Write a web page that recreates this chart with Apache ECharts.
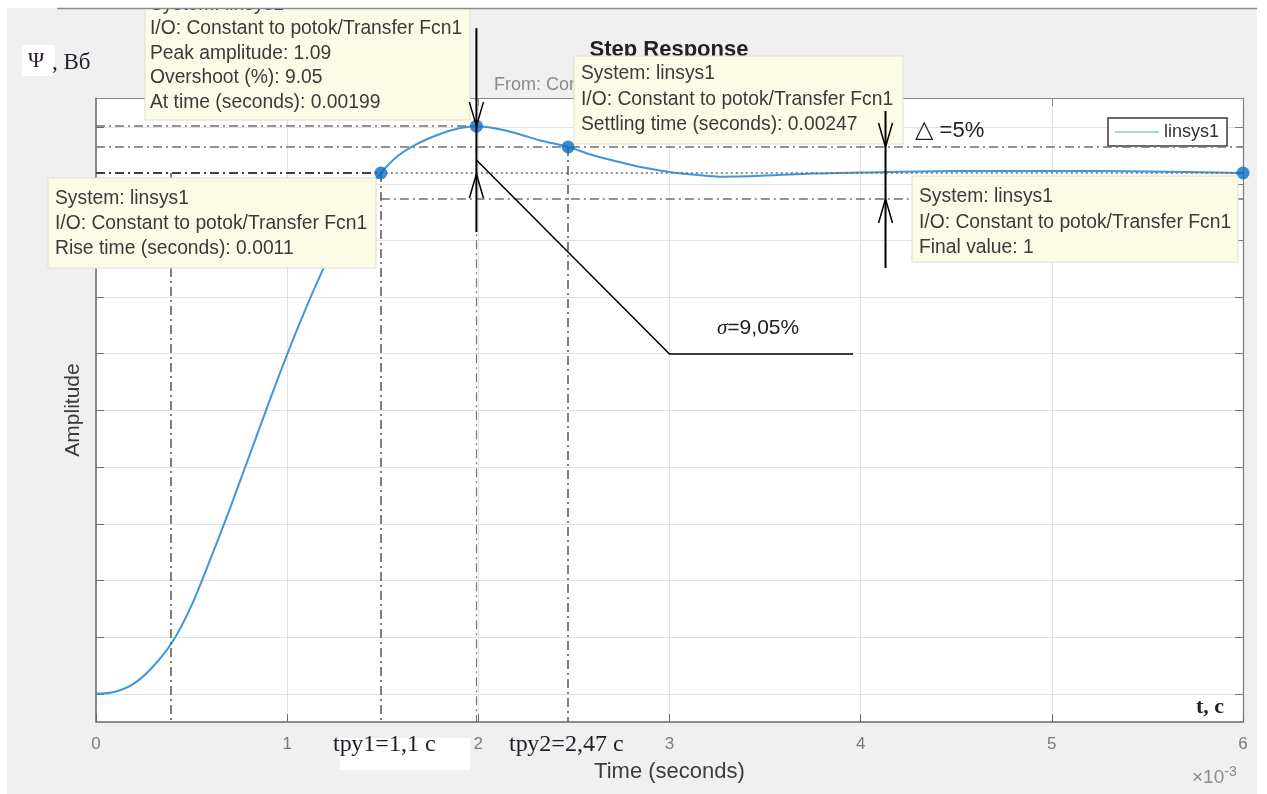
<!DOCTYPE html>
<html>
<head>
<meta charset="utf-8">
<script src="https://cdn.jsdelivr.net/npm/echarts@6/dist/echarts.min.js"></script>
<style>
  html, body { margin: 0; padding: 0; background: #fff; }
  #chart { width: 1267px; height: 794px; }
</style>
</head>
<body>
<div id="chart"></div>
<script>
// Step response of linsys1 (Constant -> potok/Transfer Fcn1); time axis in milliseconds
const timeMs = [0, 0.1, 0.2, 0.3, 0.4, 0.5, 0.6, 0.7, 0.8, 0.9, 1.0, 1.1, 1.2, 1.3, 1.4,
  1.49, 1.58, 1.68, 1.8, 1.9, 1.99, 2.1, 2.2, 2.32, 2.47, 2.6, 2.75, 2.87, 3.0, 3.15, 3.26,
  3.5, 3.75, 4.0, 4.5, 5.0, 5.5, 6.0];
const amplitude = [0, 0.004, 0.02, 0.053, 0.10, 0.17, 0.26, 0.355, 0.455, 0.555, 0.652, 0.742, 0.825, 0.9, 0.958,
  1.0, 1.033, 1.056, 1.075, 1.086, 1.09, 1.085, 1.076, 1.063, 1.05, 1.034, 1.02, 1.01, 1.002, 0.996, 0.993,
  0.995, 0.999, 1.001, 1.004, 1.004, 1.003, 1.0];

// axis ticks
const timeTicks = [0, 1, 2, 3, 4, 5, 6];
const ampGridTicks = [0, 0.109, 0.218, 0.326, 0.435, 0.544, 0.653, 0.762, 0.870, 0.979, 1.088];
const ampMin = -0.054, ampMax = 1.144;

// step-response characteristics
const peakTime = 1.99, peakAmp = 1.09, overshootPct = 9.05;
const t10 = 0.39, riseTime = 1.1, t90 = t10 + riseTime, riseLevel = 1.0;
const settleTime = 2.47, finalValue = 1, bandPct = 5;
const bandHi = finalValue * (1 + bandPct / 100), bandLo = finalValue * (1 - bandPct / 100);

const SANS = '"Liberation Sans", Arial, sans-serif';
const SERIF = '"Liberation Serif", "Times New Roman", serif';
const tEnd = timeTicks[timeTicks.length - 1];

const chart = echarts.init(document.getElementById('chart'), null, { renderer: 'canvas' });

const dashDot = (color, width) => ({ color, width, type: [9, 4, 2, 4] });
const refLines = [
  [{ coord: [0, peakAmp], lineStyle: dashDot('#707070', 1.5) }, { coord: [peakTime, peakAmp] }],
  [{ coord: [0, bandHi], lineStyle: dashDot('#707070', 1.5) }, { coord: [tEnd, bandHi] }],
  [{ coord: [t90, bandLo], lineStyle: dashDot('#707070', 1.5) }, { coord: [tEnd, bandLo] }],
  [{ coord: [t90, finalValue], lineStyle: { color: '#6a6a6a', width: 1.5, type: [2, 3] } }, { coord: [tEnd, finalValue] }],
  [{ coord: [0, riseLevel], lineStyle: dashDot('#404040', 2) }, { coord: [t90, riseLevel] }],
  [{ coord: [t10, riseLevel], lineStyle: dashDot('#555', 1.5) }, { coord: [t10, ampMin] }],
  [{ coord: [t90, riseLevel], lineStyle: dashDot('#555', 1.5) }, { coord: [t90, ampMin] }],
  [{ coord: [peakTime, peakAmp], lineStyle: dashDot('#777', 1.2) }, { coord: [peakTime, ampMin] }],
  [{ coord: [settleTime, bandHi], lineStyle: dashDot('#555', 1.5) }, { coord: [settleTime, ampMin] }]
];

const axisGray = '#6a6a6a';
const option = {
  backgroundColor: '#f0f0f0',
  animation: false,
  grid: { left: 96, top: 98, width: 1147, height: 624, show: true, backgroundColor: '#fff', borderWidth: 0 },
  legend: {
    left: 1108, top: 118, padding: [5, 8, 5, 7], itemWidth: 44, itemHeight: 2, icon: 'rect',
    borderColor: '#3a3a3a', borderWidth: 1.5, backgroundColor: '#fff', selectedMode: false,
    textStyle: { fontFamily: SANS, fontSize: 18, color: '#333' },
    data: [{ name: 'linsys1', itemStyle: { color: '#a9d1f0' } }]
  },
  xAxis: [
    {
      type: 'value', min: timeTicks[0], max: tEnd, interval: 1,
      name: 'Time (seconds)', nameLocation: 'middle', nameGap: 39,
      nameTextStyle: { fontFamily: SANS, fontSize: 22, color: '#3c3c3c' },
      axisLine: { onZero: false, lineStyle: { color: axisGray, width: 1.5 } },
      axisTick: { inside: true, length: 8, lineStyle: { color: axisGray } },
      axisLabel: { margin: 14, fontFamily: SANS, fontSize: 17, color: '#7a7a7a' },
      splitLine: { show: true, lineStyle: { color: '#e2e2e2', width: 1 } }
    },
    {
      type: 'value', position: 'top', min: timeTicks[0], max: tEnd, interval: 1,
      axisLine: { onZero: false, lineStyle: { color: '#8a8a8a', width: 1.2 } },
      axisTick: { inside: true, length: 8, lineStyle: { color: '#8a8a8a' } },
      axisLabel: { show: false }, splitLine: { show: false }
    }
  ],
  yAxis: [
    {
      type: 'value', min: ampMin, max: ampMax,
      name: 'Amplitude', nameLocation: 'middle', nameGap: 12,
      nameTextStyle: { fontFamily: SANS, fontSize: 21, color: '#3c3c3c' },
      axisLine: { show: true, onZero: false, lineStyle: { color: axisGray, width: 1.5 } },
      axisTick: { show: true, inside: true, length: 8, customValues: ampGridTicks, lineStyle: { color: axisGray } },
      axisLabel: { show: false, customValues: ampGridTicks },
      splitLine: { show: true, lineStyle: { color: '#e2e2e2', width: 1 } }
    },
    {
      type: 'value', position: 'right', min: ampMin, max: ampMax,
      axisLine: { show: true, onZero: false, lineStyle: { color: '#7a7a7a', width: 1.2 } },
      axisTick: { show: true, inside: true, length: 8, customValues: ampGridTicks, lineStyle: { color: '#7a7a7a' } },
      axisLabel: { show: false, customValues: ampGridTicks }, splitLine: { show: false }
    }
  ],
  series: [
    {
      name: 'linsys1', type: 'line', xAxisIndex: 0, yAxisIndex: 0, z: 3,
      data: timeMs.map((t, i) => [t, amplitude[i]]),
      smooth: 0.35, showSymbol: false, symbol: 'none',
      lineStyle: { color: '#3d97dc', width: 2 }, itemStyle: { color: '#3d97dc' },
      markLine: { symbol: 'none', silent: true, label: { show: false }, animation: false, data: refLines }
    },
    {
      name: 'characteristics', type: 'scatter', xAxisIndex: 0, yAxisIndex: 0, z: 5,
      symbolSize: 13, itemStyle: { color: '#0b6fc0' },
      data: [[peakTime, peakAmp], [t90, riseLevel], [settleTime, bandHi], [tEnd, finalValue]]
    }
  ]
};
chart.setOption(option);

// overlay: datatips, dimension arrows and hand-written notes
const P = (t, v) => chart.convertToPixel({ xAxisIndex: 0, yAxisIndex: 0 }, [t, v]);
const [peakX, peakY] = P(peakTime, peakAmp);
const finalY = P(0, finalValue)[1];
const hiY = P(0, bandHi)[1], loY = P(0, bandLo)[1];
const dimX = P(4.13, 0)[0];
const elbow = [P(3, 0)[0], 354];

const g = [];
const box = (x, y, w, h, lines, tx, ly, step) => {
  g.push({ type: 'rect', z: 50, shape: { x, y, width: w, height: h },
    style: { fill: '#fcfce6', stroke: '#deded0', lineWidth: 1 } });
  lines.forEach((s, i) => g.push({ type: 'text', z: 51,
    style: { text: s, x: tx, y: ly + i * step, font: '19.3px ' + SANS, fill: '#3a3a3a', verticalAlign: 'middle' } }));
};
const line = (pts, w, color) => g.push({ type: 'polyline', z: 60, shape: { points: pts },
  style: { stroke: color || '#000', lineWidth: w, fill: null } });
const arrowDown = (x, yTip) => line([[x - 7, yTip - 24], [x, yTip], [x + 7, yTip - 24]], 1.5);
const arrowUp = (x, yTip) => line([[x - 7, yTip + 24], [x, yTip], [x + 7, yTip + 24]], 1.5);
const text = (s, x, y, font, fill, extra, z) => g.push({ type: 'text', z: z || 70,
  style: Object.assign({ text: s, x, y, font, fill: fill || '#222', verticalAlign: 'middle' }, extra || {}) });

// title and input/output label (partly hidden under the datatips)
text('Step Response', 669, 50, 'bold 22px ' + SANS, '#222', { align: 'center' }, 10);
text('From: Constant to potok', 494, 85, '18px ' + SANS, '#8a8a8a', null, 10);

box(145, -30, 325, 150, ['System: linsys1', 'I/O: Constant to potok/Transfer Fcn1',
  'Peak amplitude: ' + peakAmp, 'Overshoot (%): ' + overshootPct,
  'At time (seconds): ' + (peakTime / 1000).toPrecision(3)], 150, 4.5, 24.5);
box(48, 178, 328, 90, ['System: linsys1', 'I/O: Constant to potok/Transfer Fcn1',
  'Rise time (seconds): ' + (riseTime / 1000).toPrecision(2)], 55, 199, 25);
box(574, 56, 329, 88, ['System: linsys1', 'I/O: Constant to potok/Transfer Fcn1',
  'Settling time (seconds): ' + (settleTime / 1000).toPrecision(3)], 581, 74, 25.5);
box(912, 176, 326, 86, ['System: linsys1', 'I/O: Constant to potok/Transfer Fcn1',
  'Final value: ' + finalValue], 919, 197, 25.5);

// overshoot dimension
line([[peakX, peakY - 98], [peakX, finalY + 59]], 2);
arrowDown(peakX, peakY);
arrowUp(peakX, finalY + 1);
line([[peakX, finalY - 13], elbow, [853, elbow[1]]], 1.5);
g.push({ type: 'text', z: 70, style: { x: 717, y: 328, verticalAlign: 'middle',
  text: '{s|σ}{n|=' + overshootPct.toFixed(2).replace('.', ',') + '%}',
  rich: { s: { font: 'italic 21px ' + SERIF, fill: '#222' }, n: { font: '21px ' + SANS, fill: '#222' } } } });

// settling band dimension
line([[dimX, hiY - 36], [dimX, loY + 69]], 2);
arrowDown(dimX, hiY);
arrowUp(dimX, loY);
g.push({ type: 'text', z: 70, style: { x: 915, y: 131, verticalAlign: 'middle',
  text: '{t|△}{n| =' + bandPct + '%}',
  rich: { t: { font: '24px "DejaVu Sans"', fill: '#222' }, n: { font: '22px ' + SANS, fill: '#222' } } } });

// axis notes
g.push({ type: 'rect', z: 65, shape: { x: 22, y: 45, width: 33, height: 31 }, style: { fill: '#fff' } });
text('Ψ', 28, 61, '22px ' + SERIF, '#2a1a30');
text(', Вб', 52, 63, '23px ' + SERIF, '#1e2230');
text('t, с', 1196, 707, 'bold 22px ' + SERIF, '#1e2230');
g.push({ type: 'rect', z: 65, shape: { x: 340, y: 738, width: 130, height: 32 }, style: { fill: '#fff' } });
text('tру1=1,1 с', 333, 745, '24px ' + SERIF, '#1e1e28');
text('tру2=2,47 с', 509, 745, '24px ' + SERIF, '#1e1e28');
g.push({ type: 'text', z: 70, style: { x: 1192, y: 778, verticalAlign: 'middle',
  text: '{a|×10}{b|-3}', rich: { a: { font: '19px ' + SANS, fill: '#8a8a8a' },
  b: { font: '14px ' + SANS, fill: '#8a8a8a', verticalAlign: 'top', padding: [0, 0, 12, 0] } } } });

// figure frame margins
g.push({ type: 'rect', z: 100, shape: { x: 0, y: 0, width: 1267, height: 8 }, style: { fill: '#fff' } });
g.push({ type: 'rect', z: 100, shape: { x: 0, y: 0, width: 7, height: 794 }, style: { fill: '#fff' } });
g.push({ type: 'rect', z: 100, shape: { x: 1257, y: 0, width: 10, height: 794 }, style: { fill: '#fff' } });
g.push({ type: 'polyline', z: 101, shape: { points: [[57, 8.5], [1257, 8.5]] },
  style: { stroke: '#8c8c8c', lineWidth: 1.5, fill: null } });

chart.setOption({ graphic: { elements: g } });
</script>
</body>
</html>
